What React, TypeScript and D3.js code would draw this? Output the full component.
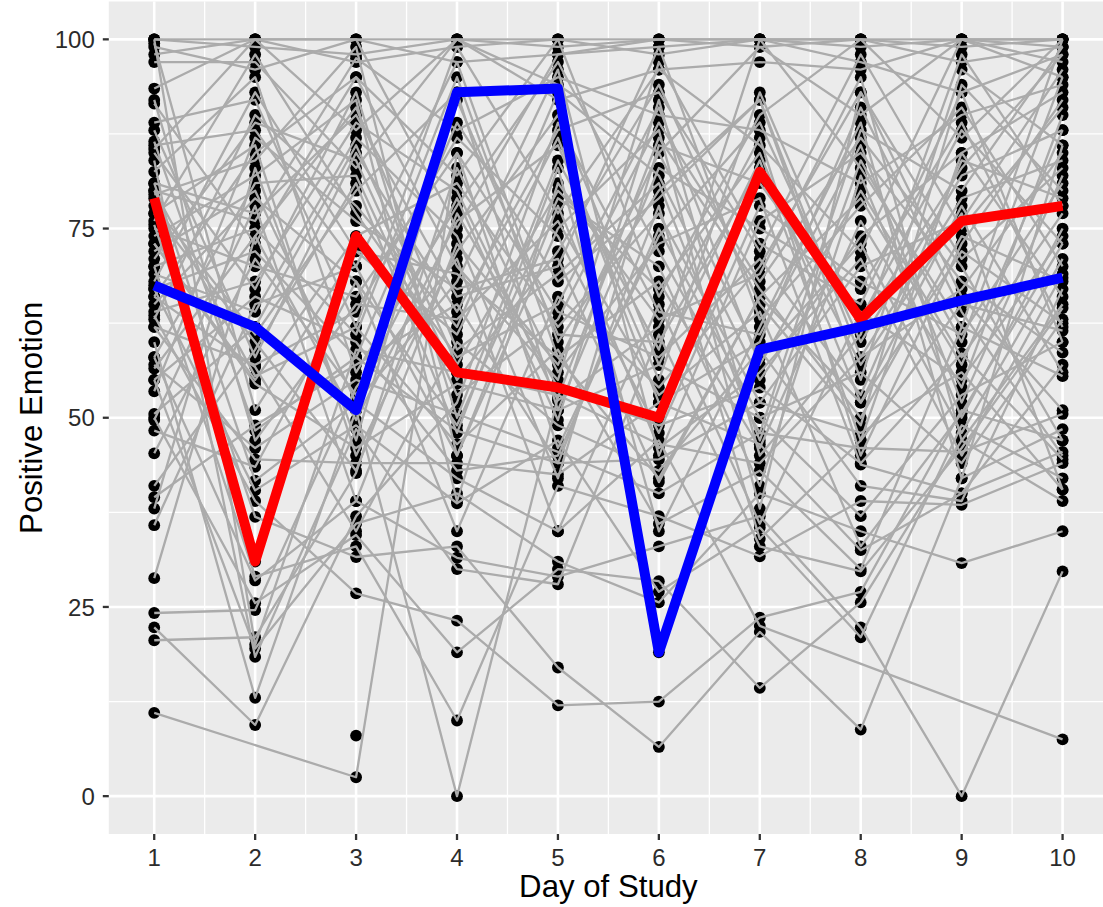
import React from "react";
import * as d3 from "d3";

// ---- data ----
const days = [1, 2, 3, 4, 5, 6, 7, 8, 9, 10];
const xTickLabels = ["1", "2", "3", "4", "5", "6", "7", "8", "9", "10"];
const yTickValues = [0, 25, 50, 75, 100];
const yTickLabels = ["0", "25", "50", "75", "100"];
const xTitle = "Day of Study";
const yTitle = "Positive Emotion";

const redSubject = [79, 31, 74, 56, 54, 50, 82.5, 63, 76, 78];
const blueSubject = [67.5, 62, 51, 93, 93.5, 19, 59, 62, 65.5, 68.5];

type V = number | null;
const greySubjects: V[][] = [
  [100, 100, 100, 100, 100, 100, 100, 100, 100, 100],
  [100, 99, 98, 100, 99, 100, 99, 100, 99, 100],
  [98, 100, 97, 99, 100, 98, 100, 99, 100, 99],
  [99, 96, 100, 97, 98, 99, 100, 97, 93, 98],
  [93.5, 100, 88, 100, 94, 85, 99, 90, 100, 97],
  [91.5, 73, 95, 82, 100, 66, 90, 100, 87, 100],
  [89, 92, 62, 99, 77, 96, 86, 72, 100, 95],
  [88, 58, 85, 64, 88, 93, 72, 98, 75, 91],
  [86, 88, 70, 97, 60, 80, 92, 55, 96, 86],
  [85, 67, 93, 50, 84, 59, 100, 83, 62, 100],
  [82.5, 95, 56, 78, 97, 72, 48, 88, 80, 99],
  [81, 77, 90, 66, 70, 99, 63, 78, 91, 70],
  [79.5, 84, 99, 45, 75, 88, 38, 93, 71, 83],
  [78, 61, 80, 93, 51, 83, 75, 67, 89, 62],
  [77, 86, 45, 72, 90, 57, 84, 47, 85, 93],
  [76, 98, 77, 58, 65, 91, 57, 80, 58, 77],
  [75, 70, 66, 85, 46, 74, 89, 60, 82, 88],
  [74, 82, 92, 39, 81, 63, 69, 95, 47, 65],
  [73, 55, 74, 81, 62, 77, 52, 70, 76, 96],
  [72, 80, 52, 68, 96, 45, 76, 85, 68, 58.6],
  [71, 89, 84, 55, 72, 94, 65, 49, 94, 80],
  [70, 75, 61, 95, 58, 68, 46, 76, 54, 90],
  [69, 64, 87, 74, 42, 86, 81, 63, 88, 73],
  [68, 93, 72, 61, 87, 52, 60, 91, 64, 45],
  [67, 72, 58, 89, 68, 79, 92, 58, 79, 84],
  [66, 85, 95, 70, 55, 97, 73, 65, 93, 60],
  [65, 79, 68, 49, 79, 70, 41, 82, 50, 75],
  [64, 68, 89, 80, 52.3, 62, 87, 45, 73, 92],
  [63, 90, 78, 62, 93, 82, 55, 74, 85, 66],
  [62, 57, 64, 87, 74, 48, 78, 68, 61, 81],
  [58, 81, 82, 53, 63, 89, 68, 87, 70, 47],
  [56.5, 74, 49.7, 76, 86, 55, 93, 62, 83, 98],
  [55, 66, 60, 43, 45, 75, 50, 56, 44, 63],
  [53.5, 87, 76, 67, 71, 41.5, 66, 79, 57, 88],
  [50.5, 62, 86, 57, 80, 67, 85, 52, 78, 56],
  [49.7, 78, 39, 73, 57, 85, 58, 73, 48, 71],
  [48.3, 43.5, 68, 35, 66, 54, 70, 93, 66, 51],
  [45.3, 71, 53, 79, 49.7, 92, 45, 61, 98, 78],
  [41, 59, 81, 48, 83, 35, 62, 89, 42, 86],
  [39.5, 49, 57, 65, 44, 78, 34, 47, 65, 61.5],
  [38, 83, 47, 92, 61, 60, 83, 57, 77, 40.5],
  [35.8, 65, 70, 45, 78, 46, 56, 71, 45, 69],
  [28.8, 74, 91, 59, 69, 81, 47, 84, 60, 95],
  [24.2, 24.6, 54, 71, 35, 65, 36, 64, 55, 74],
  [20.6, 21, 42.7, 83, 56, 73, 79, 43.8, 40, 57],
  [22.3, 9.4, 37, 52, 89, 64, 61, 86, 52, 82],
  [11, null, 2.5, 85, 64, 58, 71, 53, 84, 79],
  [null, null, 8, null, null, null, null, null, null, null],
  [60, 13, 51, 0, 52.7, 87, 67, 50, 74, 68],
  [70, 29, 33, 10, 41, 37, 31.7, 39, 38.5, 44],
  [84, 18.4, 48.5, 30, 28, 61, 33, 29.7, 46, 64.5],
  [55, 19.5, 36, 40, 31, 25.6, 40, 35, 30.8, 35],
  [63.5, 39, 26.8, 23.2, 12, 12.5, 23.6, 27, 51, 47],
  [75.5, 36.9, 31.6, 33, 17, 6.5, 21.7, 8.8, 42, 48.5],
  [50, 25.5, 34.5, 19, 30, 28.4, 14.3, 25.6, 47, 39],
  [58, 28.5, 39, 31.5, 29, 33, 37, 22.3, 0, 29.7],
  [67, 40.4, 49, 38.7, 47, 27, 35.5, 21, 49, 42],
  [81, 41.7, 52, 42, 35, 47, 22.5, null, null, 7.5],
  [62, 44.5, 44, 44, 42.5, 52, 46.5, 32.5, 40, 45.5],
  [57, 46, 55, 50.5, 45.5, 40, 48, 46, 45.5, 50.5],
  [86.5, 48.3, 58, 48.3, 44, 44.5, 52, 48, 56, 40.5],
  [73, 54.5, 46, 54.5, 51, 57, 50, 37, 53, 60],
  [80, 55.5, 62, 46.5, 59, 36, 43, 30, 62, 55.5],
  [66, 56.7, 35, 60, 49, 43, 59, 41, 39, 67],
  [77, 60, 43, 77, 54, 49, 54, 44, 58.5, 44.5],
  [92, 47, 65, 63, 76, 53, 64, 33, 50.6, 73],
  [100, 20, 59, 56, 53, 46.5, 44, 58, 67, 85],
  [99.5, 51, 72, 69, 58, 42, 66, 52, 72, 62.5],
  [85.5, 100, 100, 75, 98, 100, 100, 100, 97, 99],
  [97, 97, 83, 100, 92, 96, 97, 96, 100, 100],
  [80, 76, 97.5, 88, 95, 90, 88, 81, 90, 94],
];

// ---- layout ----
const W = 1103;
const H = 907;
const panel = { left: 108.8, right: 1108, top: 1.5, bottom: 834 };
const FONT = "'Liberation Sans', Arial, Helvetica, sans-serif";

export default function App() {
  const x = d3.scaleLinear().domain([0.55, 10.45]).range([panel.left, panel.right]);
  const y = d3.scaleLinear().domain([-5, 105]).range([panel.bottom, panel.top]);

  const toPts = (vals: V[]) =>
    vals
      .map((v, i) => (v == null ? null : ([days[i], v] as [number, number])))
      .filter((p): p is [number, number] => p !== null);

  const line = d3
    .line<[number, number]>()
    .x((d) => x(d[0]))
    .y((d) => y(d[1]));

  const allSubjects: V[][] = [...greySubjects, redSubject, blueSubject];
  const points = allSubjects.flatMap((s) => toPts(s));

  const xMinor = d3.range(1.5, 10, 1);
  const yMinor = [12.5, 37.5, 62.5, 87.5];

  return (
    <svg
      width={W}
      height={H}
      style={{ position: "absolute", left: 0, top: 0, background: "#fff" }}
      fontFamily={FONT}
    >
      <rect
        x={panel.left}
        y={panel.top}
        width={panel.right - panel.left}
        height={panel.bottom - panel.top}
        fill="#EBEBEB"
      />
      {/* minor grid */}
      {yMinor.map((v) => (
        <line key={"ym" + v} x1={panel.left} x2={panel.right} y1={y(v)} y2={y(v)} stroke="#fff" strokeWidth={1.3} />
      ))}
      {xMinor.map((v) => (
        <line key={"xm" + v} y1={panel.top} y2={panel.bottom} x1={x(v)} x2={x(v)} stroke="#fff" strokeWidth={1.3} />
      ))}
      {/* major grid */}
      {yTickValues.map((v) => (
        <line key={"yM" + v} x1={panel.left} x2={panel.right} y1={y(v)} y2={y(v)} stroke="#fff" strokeWidth={2.6} />
      ))}
      {days.map((v) => (
        <line key={"xM" + v} y1={panel.top} y2={panel.bottom} x1={x(v)} x2={x(v)} stroke="#fff" strokeWidth={2.6} />
      ))}

      {/* points */}
      {points.map((p, i) => (
        <circle key={"p" + i} cx={x(p[0])} cy={y(p[1])} r={5.9} fill="#000" />
      ))}

      {/* grey subject lines */}
      {greySubjects.map((s, i) => {
        const pts = toPts(s);
        if (pts.length < 2) return null;
        return (
          <path
            key={"g" + i}
            d={line(pts) || ""}
            fill="none"
            stroke="#ABABAB"
            strokeWidth={2.3}
            strokeLinejoin="round"
          />
        );
      })}

      {/* highlighted subjects */}
      <path d={line(toPts(redSubject)) || ""} fill="none" stroke="#FF0000" strokeWidth={10} strokeLinejoin="round" />
      <path d={line(toPts(blueSubject)) || ""} fill="none" stroke="#0000FF" strokeWidth={10} strokeLinejoin="round" />

      {/* y axis */}
      {yTickValues.map((v, i) => (
        <g key={"yt" + v}>
          <line x1={panel.left - 6} x2={panel.left} y1={y(v)} y2={y(v)} stroke="#333333" strokeWidth={2.3} />
          <text x={panel.left - 14} y={y(v)} dy="0.36em" textAnchor="end" fontSize={24} fill="#2b2b2b">
            {yTickLabels[i]}
          </text>
        </g>
      ))}
      {/* x axis */}
      {days.map((v, i) => (
        <g key={"xt" + v}>
          <line x1={x(v)} x2={x(v)} y1={panel.bottom} y2={panel.bottom + 6} stroke="#333333" strokeWidth={2.3} />
          <text x={x(v)} y={865.5} textAnchor="middle" fontSize={24} fill="#2b2b2b">
            {xTickLabels[i]}
          </text>
        </g>
      ))}

      <text x={(panel.left + panel.right) / 2} y={897} textAnchor="middle" fontSize={31.2} fill="#000">
        {xTitle}
      </text>
      <text
        transform={`translate(41.5, ${(panel.top + panel.bottom) / 2}) rotate(-90)`}
        textAnchor="middle"
        fontSize={31.2}
        fill="#000"
      >
        {yTitle}
      </text>
    </svg>
  );
}
